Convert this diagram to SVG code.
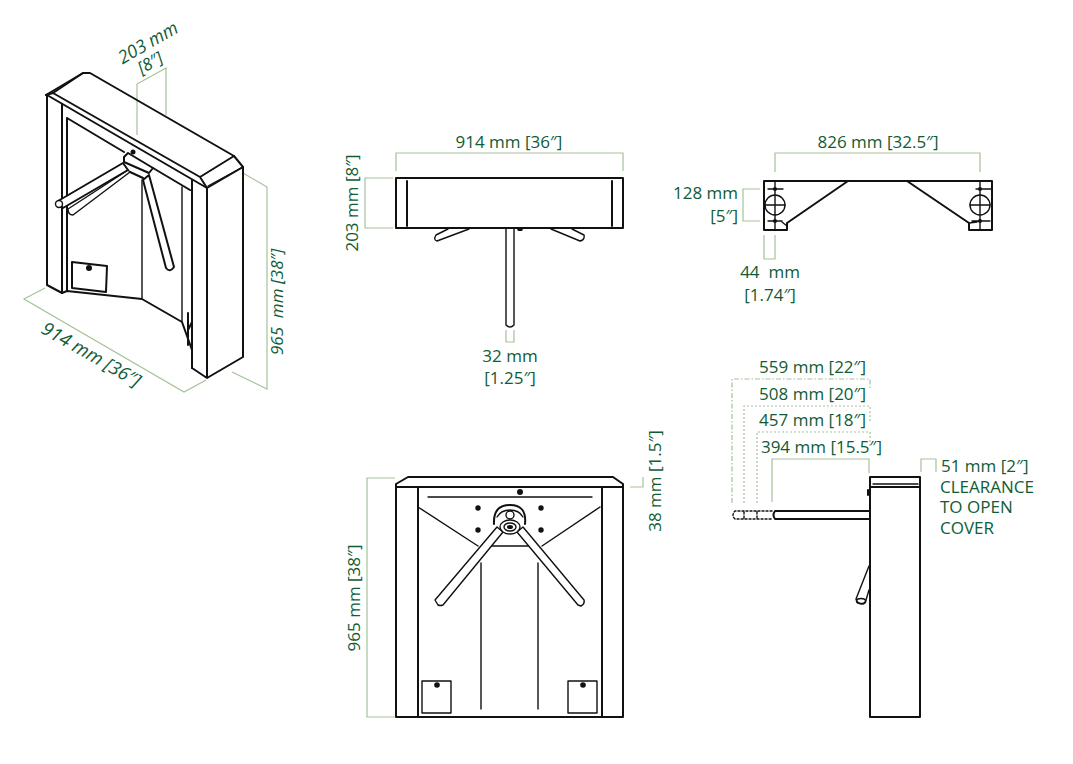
<svg xmlns="http://www.w3.org/2000/svg" width="1073" height="764" viewBox="0 0 1073 764">
<style>
.d{fill:none;stroke:#a5c299;stroke-width:1.2}
.dd{stroke-dasharray:5 2 1.5 2}
.dt{stroke-dasharray:2 2}
.k{fill:none;stroke:#111;stroke-width:2;stroke-linejoin:round;stroke-linecap:round}
.t{stroke-width:1.4}
.w{fill:#fff}
.o{fill:#111;stroke:none}
text{font-family:"Open Sans","Liberation Sans",sans-serif;font-size:17px;font-weight:400;fill:#0f5c35;white-space:pre}
.m{text-anchor:middle}
.e{text-anchor:end}
</style>
<rect width="1073" height="764" fill="#fff"/>
<g id="connectors">
<path class="d" d="M137 135V84L166 68V115"/>
<path class="d" d="M243 173L267 187V389L232 372"/>
<path class="d" d="M45 288L24 299L184 392L206 380"/>
<path class="d" d="M396 171V153H623V171"/>
<path class="d" d="M393 178H365V228H393"/>
<path class="d" d="M506 330V342H514V330"/>
<path class="d" d="M775 172V153H980V172"/>
<path class="d" d="M760 189H743V221H760"/>
<path class="d" d="M764 235V259H775V235"/>
<path class="d" d="M395 478H367V717H395"/>
<path class="d" d="M630 487H643V477"/>
<path class="d" d="M772 502V459H869V473"/>
<path class="d dt" d="M757 503V432H870V447"/>
<path class="d dt" d="M744 503V406H870V421"/>
<path class="d dd" d="M732 503V379H870V390"/>
<path class="d" d="M921 472V459H936V472"/>
</g>
<g id="iso-view">
<path class="k" d="M46 95L83 73H90L234 156L243 167V357L207 378L192 368V350L182 322L142 299L67 291L62 293L47 285V95L207 188V378"/>
<path class="k" d="M46 95L53 93L200 177L207 188L243 167M53 93L83 73M200 177L234 156"/>
<path class="k t" d="M208 186L241 168"/>
<path class="k" d="M192 180V368M62 104V293M67 118V291M67 118L124 152M153 168L190 190"/>
<path class="k t" d="M182 187V322M142 180V299"/>
<path class="k" d="M188 313V345M192 322L188 330"/>
<g id="iso-arms">
<path class="k w t" d="M130 172L73 215Q68 215 68 209L128 170Z"/>
<path class="k w" d="M123 163L58 201L63 208L128 170Z"/>
<circle class="k w t" cx="59" cy="204" r="3.500"/>
<path class="k" d="M130 172L143 178"/>
<path class="k w" d="M143 180L166 268Q170 273 174 267L149 175Z"/>
<path class="k w" d="M124 157L128 153L153 168L149 173L124 162Z"/>
<circle class="o" cx="133" cy="152" r="2.500"/>
</g>
<path class="k" d="M72 262L107 266L106 292L72 288Z"/>
<circle class="o" cx="89" cy="268" r="3"/>
</g>
<g id="top-view">
<rect class="k" x="396" y="178" width="227" height="50"/>
<path class="k" d="M407 181V226M612 181V226"/>
<path class="k t" d="M469 229L437 241Q433 240 436 235L448 229M551 229L580 241Q585 240 584 235L572 229"/>
<path class="k w t" d="M506 229V325Q510 329 514 325V229"/>
<path class="o" d="M517 229h6l-1 2h-4z"/>
</g>
<g id="bracket-view">
<path class="k" d="M764 181H992V230H969V223L907 181H848L787 223V230H764Z"/>
<path class="k t" d="M775 182V230M980 182V230M768 189H783M768 221H782M976 189H992M972 221H990M782 222L787 226M969 223L977 222"/>
<circle class="k t" cx="775" cy="205" r="10"/>
<circle class="k t" cx="980" cy="205" r="10"/>
<path class="k t" d="M765 205H785M970 205H990"/>
<circle class="o" cx="775" cy="189" r="2"/>
<circle class="o" cx="775" cy="221" r="2"/>
<circle class="o" cx="980" cy="189" r="2"/>
<circle class="o" cx="980" cy="221" r="2"/>
</g>
<g id="front-view">
<path class="k" d="M396 717V484L408 477H613L623 484V717ZM396 487H623"/>
<path class="k" d="M418 487V717M602 487V717"/>
<path class="k t" d="M428 497H592"/>
<path class="k t" d="M418 507L478 546M600 507L542 546M487 546H533"/>
<path class="k t" d="M481 563V709M538 563V709"/>
<circle class="o" cx="520" cy="492" r="3"/>
<circle class="o" cx="478" cy="508" r="2.700"/>
<circle class="o" cx="541" cy="508" r="2.700"/>
<circle class="o" cx="478" cy="530" r="2.700"/>
<circle class="o" cx="541" cy="530" r="2.700"/>
<path class="k w" d="M494 524Q493 505 510 505Q527 505 525 524"/>
<path class="k t" d="M497 517Q501 510 510 510Q519 510 523 517"/>
<circle class="k t" cx="510" cy="515" r="4"/>
<path class="k w t" d="M497 527L435 600L438 605Q440 606 443 605L503 532ZM523 527L584 600Q585 604 581 606L578 605L517 532Z"/>
<ellipse class="k w t" cx="510" cy="527" rx="10" ry="7"/>
<ellipse class="k t" cx="510" cy="527" rx="6" ry="4"/>
<ellipse class="o" cx="510" cy="527" rx="3" ry="2"/>
<rect class="k t" x="422" y="681" width="29" height="32"/>
<rect class="k t" x="568" y="681" width="29" height="32"/>
<circle class="o" cx="437" cy="685" r="2.800"/>
<circle class="o" cx="583" cy="685" r="2.800"/>
</g>
<g id="side-view">
<path class="k" d="M870 717V477H920V717ZM870 487H920"/>
<path class="k t" d="M873 484H918"/>
<path class="k" d="M868 490V495M870 511H775Q772 515 775 519H870"/>
<path class="k t" d="M869 566L856 599Q857 604 863 604Q866 603 866 600L869 590"/>
<ellipse class="k t" cx="861" cy="601" rx="4.500" ry="2.500"/>
<path class="k t" d="M772 511H735Q731 515 735 519H772M744 512V518M757 512V518" stroke-dasharray="2 2"/>
</g>
<g id="labels">
<text class="m" font-style="italic" font-size="18" style="font-size:18px" transform="translate(151 48) rotate(-30)">203 mm</text>
<text class="m" font-style="italic" transform="translate(153 68) rotate(-30)">[8″]</text>
<text class="m" font-style="italic" style="font-size:18.500px" transform="translate(88 360) rotate(30)">914 mm [36″]</text>
<text class="m" font-style="italic" transform="translate(283 302) rotate(-90)">965  mm [38″]</text>
<text class="m" x="509" y="148">914 mm [36″]</text>
<text class="m" transform="translate(358 203) rotate(-90)">203 mm [8″]</text>
<text class="m" x="510" y="362">32 mm</text>
<text class="m" x="510" y="384">[1.25″]</text>
<text class="m" x="878" y="148">826 mm [32.5″]</text>
<text class="e" x="738" y="199">128 mm</text>
<text class="e" x="738" y="222">[5″]</text>
<text class="m" x="770" y="278">44  mm</text>
<text class="m" x="770" y="301">[1.74″]</text>
<text class="m" transform="translate(360 598) rotate(-90)">965 mm [38″]</text>
<text class="m" transform="translate(661 481) rotate(-90)">38 mm [1.5″]</text>
<text class="e" x="866" y="373">559 mm [22″]</text>
<text class="e" x="866" y="400">508 mm [20″]</text>
<text class="e" x="866" y="426">457 mm [18″]</text>
<text class="e" x="882" y="453">394 mm [15.5″]</text>
<text x="941" y="472">51 mm [2″]</text>
<text x="940" y="493">CLEARANCE</text>
<text x="940" y="513">TO OPEN</text>
<text x="940" y="534">COVER</text>
</g>
</svg>
